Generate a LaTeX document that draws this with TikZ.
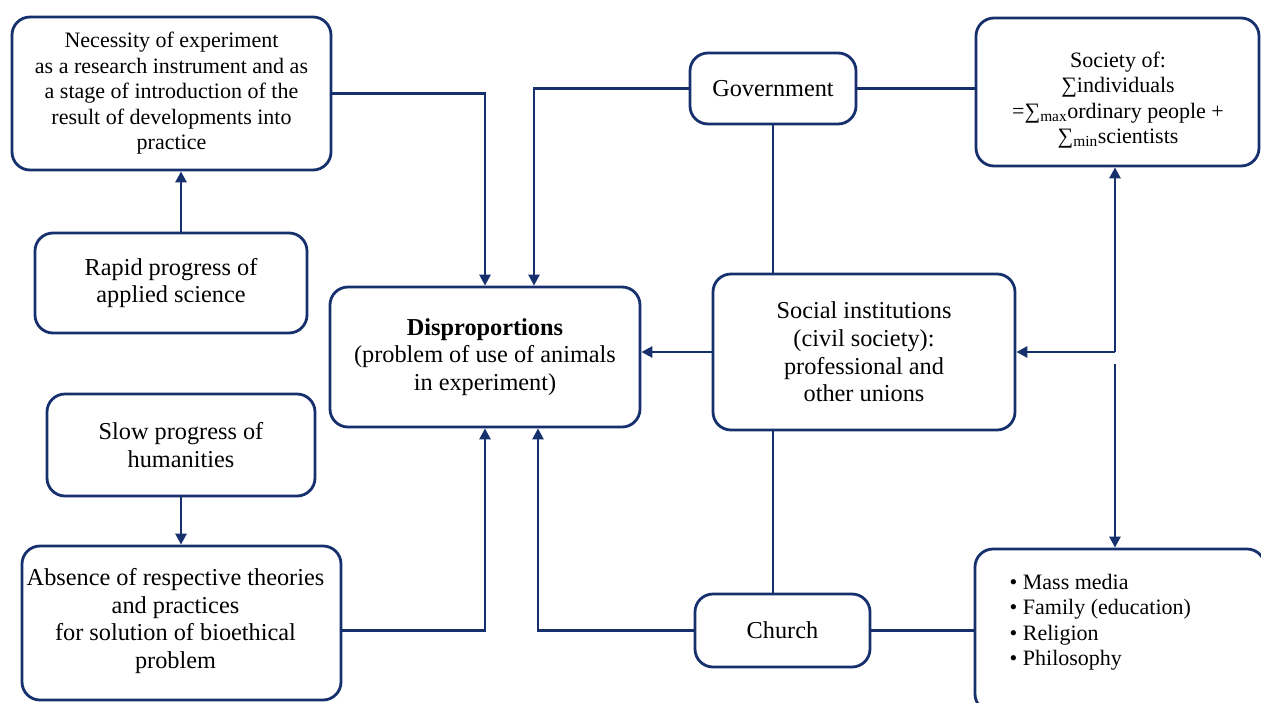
\documentclass[tikz,border=0pt]{standalone}
\usepackage{fontspec}
\setmainfont{Liberation Serif}
\usetikzlibrary{arrows.meta}
\definecolor{navy}{RGB}{22,48,110}
\begin{document}
\begin{tikzpicture}[x=1pt,y=-1pt,
  box/.style={draw=navy, line width=2.8pt, rounded corners=18pt, align=center,
    font=\fontsize{24.3}{27.6}\selectfont, inner sep=0pt},
  small/.style={font=\fontsize{22}{25.5}\selectfont},
  txt/.style={align=center, font=\fontsize{22}{25.5}\selectfont, inner sep=0pt},
  arr/.style={draw=navy, line width=2.6pt, -{Triangle[length=11pt,width=11pt]}},
  ln/.style={draw=navy, line width=2.6pt}]
\clip (0,0) rectangle (1261,702);
\fill[white] (0,0) rectangle (1261,702);
% boxes
\node[box, small, minimum width=319pt, minimum height=153pt] (nec) at (171.5,93.5)
  {Necessity of experiment\\as a research instrument and as\\a stage of introduction of the\\result of developments into\\practice};
\node[box, minimum width=272pt, minimum height=100pt] (rapid) at (171,283)
  {Rapid progress of\\applied science};
\node[box, minimum width=268pt, minimum height=102pt] (slow) at (181,445)
  {Slow progress of\\humanities};
\node[box, minimum width=319pt, minimum height=154pt] (abs) at (181.5,623) {};
\node[txt, font=\fontsize{24.3}{27.6}\selectfont] (abst) at (175.5,621)
  {Absence of respective theories\\and practices\\for solution of bioethical\\problem};
\node[box, minimum width=310pt, minimum height=140pt] (disp) at (485,357)
  {\textbf{Disproportions}\\(problem of use of animals\\in experiment)};
\node[box, minimum width=166pt, minimum height=71pt] (gov) at (773,88.5)
  {Government};
\node[box, minimum width=302pt, minimum height=156pt] (soc) at (864,352)
  {Social institutions\\(civil society):\\professional and\\other unions};
\node[box, minimum width=175pt, minimum height=73pt] (church) at (782.5,630.5)
  {Church};
\node[box, minimum width=283pt, minimum height=148pt] (society) at (1117.5,92) {};
\node[txt] (societyt) at (1118,100)
  {Society of:\\∑individuals\\=∑\textsubscript{max}ordinary people +\\∑\textsubscript{min}scientists};
\node[box, minimum width=290pt, minimum height=163pt] (media) at (1120,630.5) {};
\node[txt, align=left, anchor=north west] (mediat) at (1009.5,574)
  {• Mass media\\• Family (education)\\• Religion\\• Philosophy};
% helper coordinates
\coordinate (ax) at (181,0);
\coordinate (j) at (1115,352);
\coordinate (k) at (1115,364);
% connectors
\draw[arr] (rapid.north -| ax) -- (nec.south -| ax);
\draw[arr] (slow.south) -- (abs.north -| slow.south);
\draw[arr] (nec.east) -| (disp.north);
\draw[arr] (gov.west) -| ([xshift=49pt]disp.north);
\draw[arr] (abs.east |- church.west) -| (disp.south);
\draw[arr] (church.west) -| ([xshift=53pt]disp.south);
\draw[arr] (soc.west) -- (disp.east |- soc.west);
\draw[ln] (gov.south) -- (soc.north -| gov.south);
\draw[ln] (soc.south -| gov.south) -- (church.north -| gov.south);
\draw[ln] (gov.east) -- (society.west |- gov.east);
\draw[ln] (church.east) -- (media.west |- church.east);
\draw[arr] (j) -- (soc.east |- j);
\draw[arr] (j) -- (society.south -| j);
\draw[arr] (k) -- (media.north -| k);
\end{tikzpicture}
\end{document}
